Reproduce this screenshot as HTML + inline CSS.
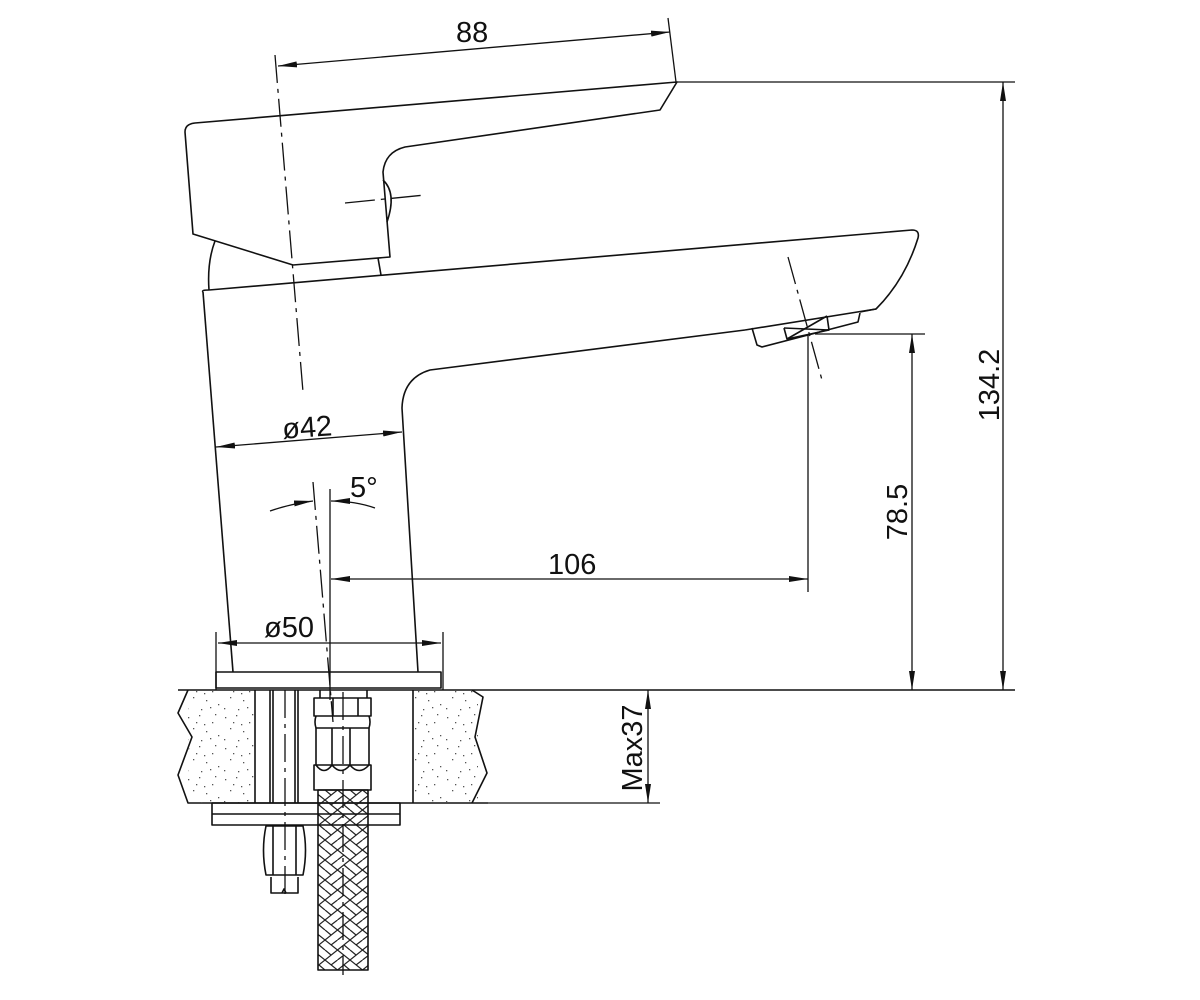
<!DOCTYPE html>
<html><head><meta charset="utf-8"><style>
html,body{margin:0;padding:0;background:#fff;}
svg{display:block}
text{font-family:"Liberation Sans",sans-serif;font-size:29px;fill:#111}
</style></head><body>
<svg width="1200" height="1000" viewBox="0 0 1200 1000" xmlns="http://www.w3.org/2000/svg">
<defs>
<marker id="a" markerUnits="userSpaceOnUse" markerWidth="20" markerHeight="10" refX="19" refY="4" orient="auto-start-reverse" viewBox="0 0 20 8">
<path d="M0,1 L19,4 L0,7 Z" fill="#111"/></marker>
<pattern id="sp" width="37" height="31" patternUnits="userSpaceOnUse">
<g fill="#555">
<rect x="3" y="4" width="1.3" height="1.3"/><rect x="14" y="2" width="1.3" height="1.3"/><rect x="27" y="9" width="1.3" height="1.3"/>
<rect x="8" y="15" width="1.3" height="1.3"/><rect x="21" y="18" width="1.3" height="1.3"/><rect x="33" y="22" width="1.3" height="1.3"/>
<rect x="2" y="26" width="1.3" height="1.3"/><rect x="16" y="27" width="1.3" height="1.3"/><rect x="30" y="1" width="1.3" height="1.3"/>
<rect x="11" y="9" width="1.3" height="1.3"/><rect x="25" y="25" width="1.3" height="1.3"/><rect x="19" y="11" width="1.3" height="1.3"/>
</g></pattern>
<pattern id="br" width="25" height="20" patternUnits="userSpaceOnUse">
<path d="M0,0 L12.5,10 L0,20 M12.5,10 L25,0 M12.5,10 L25,20 M6,5 L12.5,0 M19,15 L12.5,20 M6,15 L0,10 M19,5 L25,10" stroke="#222" stroke-width="1.2" fill="none"/>
</pattern>
</defs>
<g fill="none" stroke="#111" stroke-width="1.6" stroke-linejoin="round">
<!-- handle -->
<path d="M195,123 L677,82 L660,110 L405,147 Q385,152 383,172 L390,257 L293,265 L193,234 L185,132 Q185,124 195,123 Z"/>
<path d="M383,180 Q397,193 387,222" />
<path d="M215,241 Q207,262 209,290"/>
<path d="M378,258 L381,275"/>
<!-- body & spout -->
<path d="M209,290 L912,230 Q920,230 918,238 Q905,280 876,309 L860,312"/>
<path d="M203,292 Q201,290 209,290"/>
<path d="M203,292 L233,672"/>
<path d="M745,330 L430,370 Q403,378 402,408 L418,672"/>
<path d="M745,330 L876,309"/>
<path d="M752,328 L757,345 L762,347 L858,322 L860,313"/>
<path d="M784,328 L787,339 L829,330 L827,316"/>
<path d="M787,339 L827,316 M784,328 L829,330"/>
<rect x="216" y="672" width="225" height="16"/>
<!-- countertop -->
<path d="M178,690 L1015,690" stroke-width="1.4"/>
<path d="M188,690 L178,713 L192,737 L178,775 L188,803 L488,803"/>
<path d="M472,690 L483,697 L475,737 L487,773 L472,803"/>
<rect x="188" y="690" width="67" height="113" stroke="none" fill="url(#sp)"/>
<path d="M255,690 V803 M270,690 V803 M273,690 V803 M295,690 V803 M298,690 V803 M413,690 V803"/>
<rect x="414" y="691" width="64" height="111" stroke="none" fill="url(#sp)"/>
<!-- hose fittings -->
<path d="M320,690 V698 M367,690 V698"/>
<rect x="314" y="698" width="57" height="18"/>
<path d="M333,698 V716 M358,698 V716"/>
<path d="M316,716 Q314,722 316,728 L369,728 Q371,722 369,716"/>
<path d="M316,728 V765 M369,728 V765 M332,728 V765 M350,728 V765"/>
<path d="M316,765 Q324,776 332,765 Q341,776 350,765 Q359,776 369,765"/>
<rect x="314" y="765" width="57" height="25"/>
<rect x="318" y="790" width="50" height="180" fill="url(#br)"/>
<!-- bottom plate / nut -->
<rect x="212" y="803" width="188" height="22"/>
<path d="M212,814 H400"/>
<path d="M266,826 L303,826 Q308,850 303,875 L266,875 Q261,850 266,826 Z"/>
<path d="M273,826 V875 M296,826 V875"/>
<path d="M271,877 V893 H298 V877 M282,893 L284,889 L286,893"/>
</g>
<!-- centerlines -->
<g stroke="#111" stroke-width="1.3" fill="none" stroke-dasharray="28,6,4,6">
<line x1="275" y1="55" x2="303" y2="392"/>
<line x1="788" y1="257" x2="822" y2="380"/>
<line x1="313" y1="482" x2="333" y2="722"/>
<line x1="285" y1="690" x2="285" y2="900"/>
<line x1="343" y1="692" x2="343" y2="975"/>
<line x1="345" y1="203" x2="425" y2="195" stroke-dasharray="30,6,4,6"/>
</g>
<!-- dimensions -->
<g stroke="#111" stroke-width="1.3" fill="none">
<line x1="278" y1="66" x2="670" y2="32" marker-start="url(#a)" marker-end="url(#a)"/>
<line x1="668" y1="18" x2="676" y2="82"/>
<line x1="677" y1="82" x2="1015" y2="82"/>
<line x1="1003" y1="82" x2="1003" y2="690" marker-start="url(#a)" marker-end="url(#a)"/>
<line x1="815" y1="334" x2="925" y2="334"/>
<line x1="912" y1="334" x2="912" y2="690" marker-start="url(#a)" marker-end="url(#a)"/>
<line x1="808" y1="334" x2="808" y2="592"/>
<line x1="331" y1="579" x2="808" y2="579" marker-start="url(#a)" marker-end="url(#a)"/>
<line x1="330" y1="489" x2="330" y2="700"/>
<line x1="648" y1="690" x2="648" y2="803" marker-start="url(#a)" marker-end="url(#a)"/>
<line x1="488" y1="803" x2="660" y2="803"/>
<line x1="216" y1="447" x2="402" y2="432" marker-start="url(#a)" marker-end="url(#a)"/>
<line x1="218" y1="643" x2="441" y2="643" marker-start="url(#a)" marker-end="url(#a)"/>
<line x1="216" y1="632" x2="216" y2="690"/>
<line x1="443" y1="632" x2="443" y2="690"/>
<path d="M270,511 Q290,504 313,501" marker-end="url(#a)"/>
<path d="M375,508 Q355,501 331,501" marker-end="url(#a)"/>
</g>
<text x="456" y="42">88</text>
<text x="548" y="574">106</text>
<text x="282" y="437" transform="rotate(-4 308 425)">ø42</text>
<text x="264" y="637">ø50</text>
<text x="350" y="497">5°</text>
<text transform="translate(999,385) rotate(-90)" text-anchor="middle">134.2</text>
<text transform="translate(907,512) rotate(-90)" text-anchor="middle">78.5</text>
<text transform="translate(642,748) rotate(-90)" text-anchor="middle">Max37</text>
</svg>
</body></html>
